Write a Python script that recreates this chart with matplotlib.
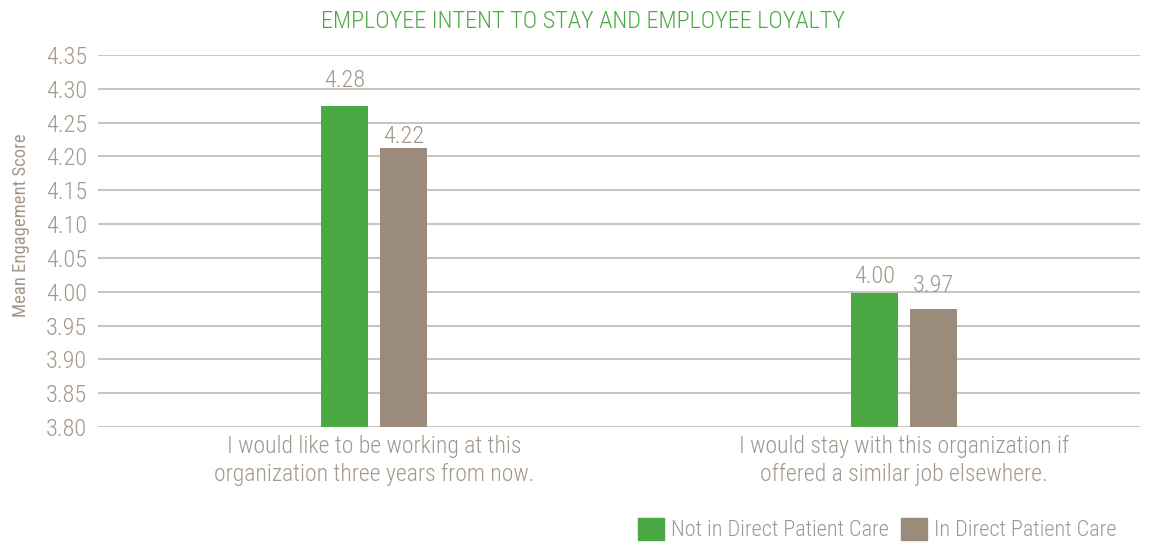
import numpy as np
import matplotlib.pyplot as plt
from matplotlib.patches import Patch

plt.rcParams['font.family'] = ['Roboto Condensed', 'Barlow Condensed', 'DejaVu Sans']
plt.rcParams['font.weight'] = 300

# data
categories = ['I would like to be working at this\norganization three years from now.',
              'I would stay with this organization if\noffered a similar job elsewhere.']
series_names = ['Not in Direct Patient Care', 'In Direct Patient Care']
not_direct = [4.275, 3.998]
in_direct = [4.212, 3.975]
not_direct_labels = ['4.28', '4.00']
in_direct_labels = ['4.22', '3.97']
yticks = np.arange(3.80, 4.351, 0.05)

green = '#4aa943'
brown = '#9b8b7a'
textc = '#a3978b'
gridc = '#cdc5bd'

fig = plt.figure(figsize=(11.54, 5.43), dpi=100)
ax = fig.add_axes([98 / 1154, 116 / 543, 1042 / 1154, 372 / 543])

x = np.arange(len(categories))
w = 0.0887
off = 0.0557
ax.bar(x - off, [v - 3.8 for v in not_direct], w, bottom=3.8, color=green, zorder=3)
ax.bar(x + off, [v - 3.8 for v in in_direct], w, bottom=3.8, color=brown, zorder=3)

# value labels (offsets in points above bar tops)
offs1 = [10, 3.5]
offs2 = [0.5, 8.5]
for i in range(len(x)):
    ax.annotate(not_direct_labels[i], (x[i] - off, not_direct[i]), xytext=(0, offs1[i]),
                textcoords='offset points', ha='center', va='bottom', fontsize=17.5, color=textc)
    ax.annotate(in_direct_labels[i], (x[i] + off, in_direct[i]), xytext=(0, offs2[i]),
                textcoords='offset points', ha='center', va='bottom', fontsize=17.5, color=textc)

ax.set_ylim(3.80, 4.35)
ax.set_xlim(-0.521, 1.445)
ax.set_yticks(yticks)
ax.set_yticklabels(['%.2f' % t for t in yticks], fontsize=17.5, color=textc)
ax.set_xticks(x)
ax.set_xticklabels(categories, fontsize=17, color=textc, linespacing=1.28)
ax.tick_params(length=0, pad=6)
ax.tick_params(axis='y', pad=8)
ax.grid(axis='y', color=gridc, linewidth=1.5, zorder=0)
for s in ax.spines.values():
    s.set_visible(False)

ax.set_ylabel('Mean Engagement Score', fontsize=13.5, color=textc)
ax.yaxis.set_label_coords(-0.065, 0.543)

fig.text(0.505, 0.96, 'EMPLOYEE INTENT TO STAY AND EMPLOYEE LOYALTY', ha='center', va='center',
         fontsize=17.5, color=green)

handles = [Patch(color=green), Patch(color=brown)]
fig.legend(handles, series_names, loc='lower right', bbox_to_anchor=(1117 / 1154, 0.003), ncol=2,
           frameon=False, fontsize=16, labelcolor=textc, handlelength=1.17, handleheight=1.17,
           handletextpad=0.32, columnspacing=0.58, borderpad=0, borderaxespad=0)

fig.savefig('out.png', dpi=100)
